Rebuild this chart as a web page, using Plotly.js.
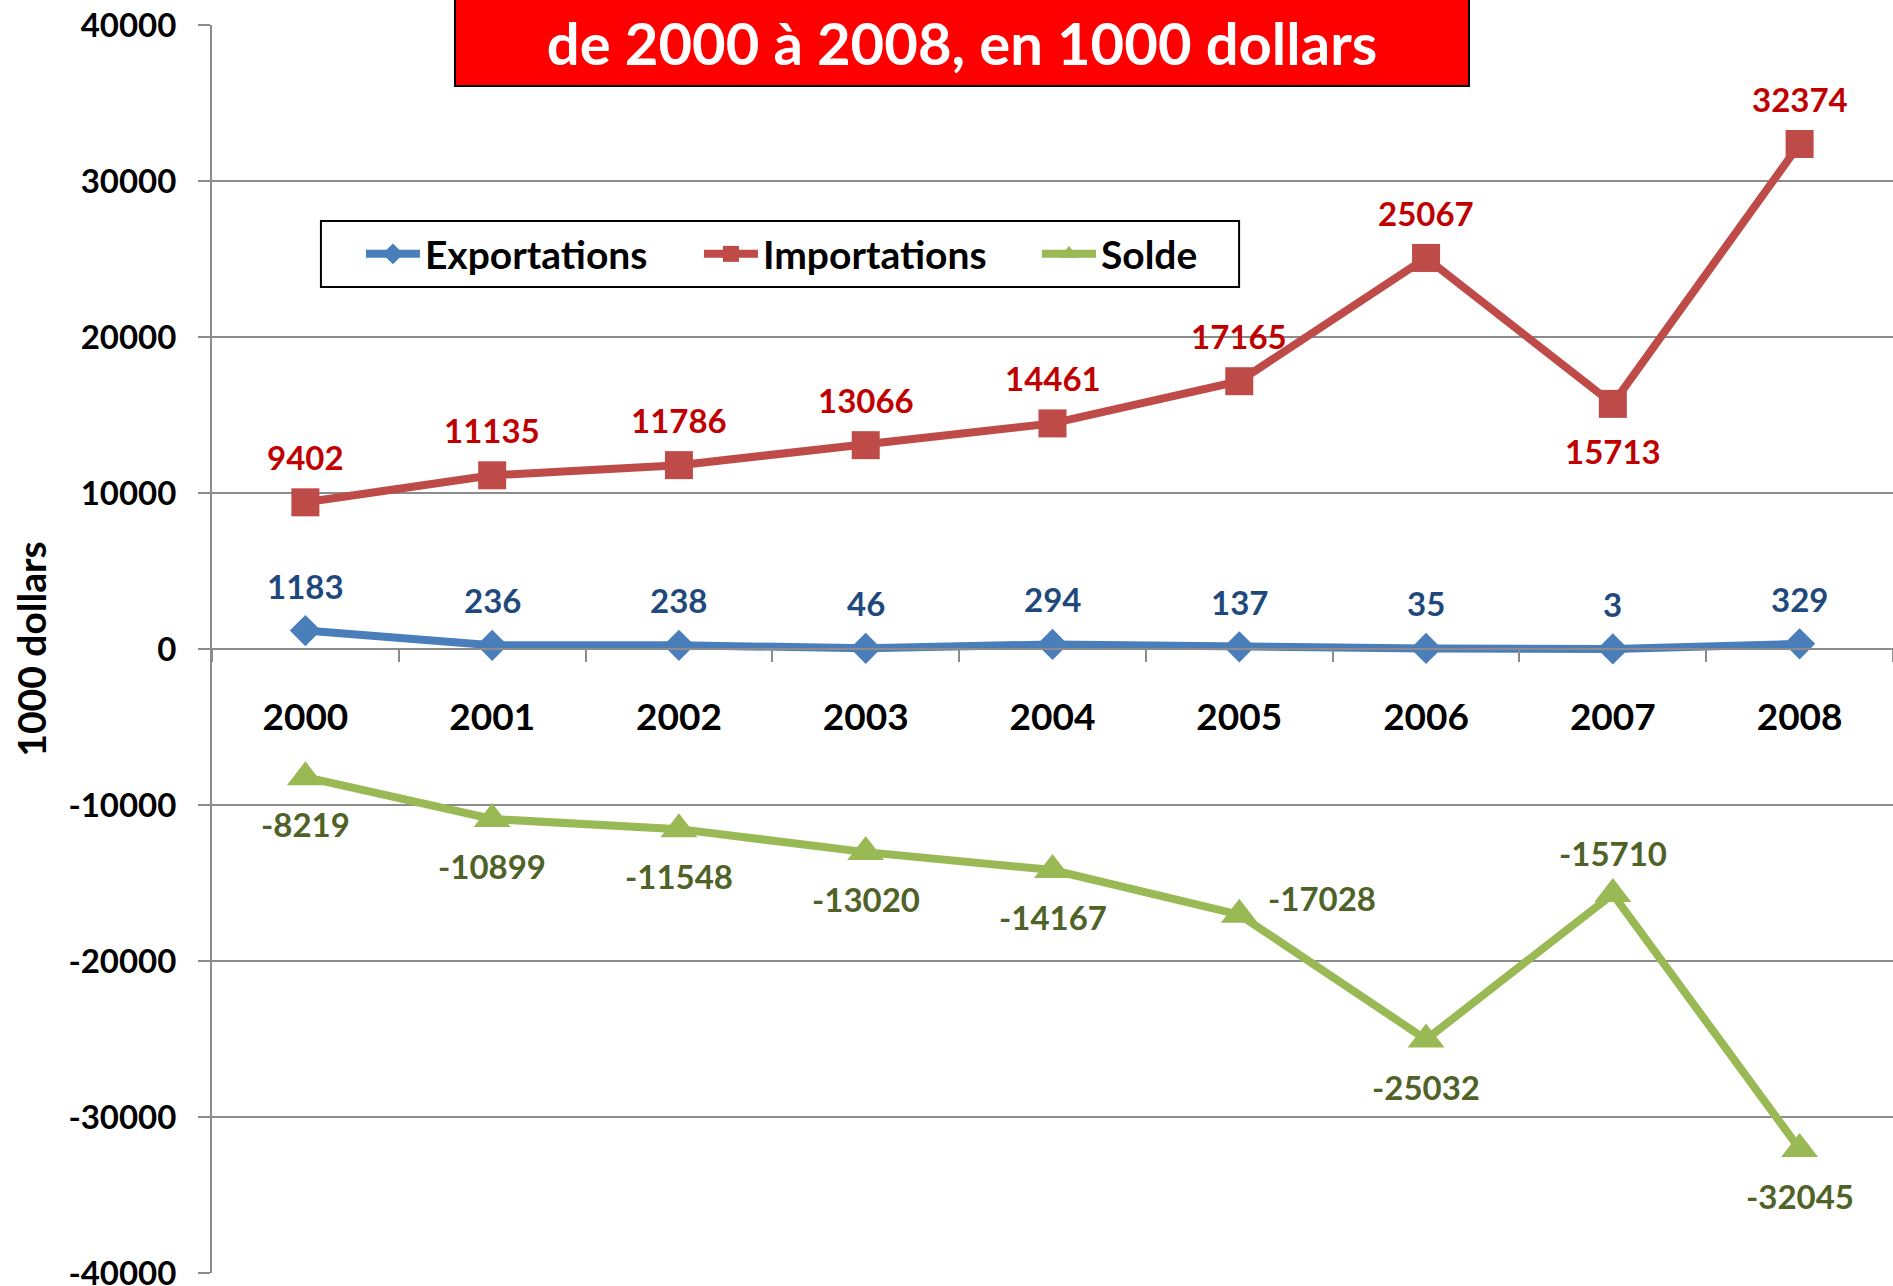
<!DOCTYPE html>
<html>
<head>
<meta charset="utf-8">
<script src="https://cdn.plot.ly/plotly-3.0.1.min.js"></script>
<style>
html, body { margin: 0; padding: 0; background: #ffffff; }
#chart { width: 1893px; height: 1286px; }
</style>
</head>
<body>
<div id="chart"></div>
<script>
// ---- data ----
const years = ['2000', '2001', '2002', '2003', '2004', '2005', '2006', '2007', '2008'];
const exportations = [1183, 236, 238, 46, 294, 137, 35, 3, 329];
const importations = [9402, 11135, 11786, 13066, 14461, 17165, 25067, 15713, 32374];
const solde = [-8219, -10899, -11548, -13020, -14167, -17028, -25032, -15710, -32045];
const yTickVals = [-40000, -30000, -20000, -10000, 0, 10000, 20000, 30000, 40000];
const yTickText = ['-40000', '-30000', '-20000', '-10000', '0', '10000', '20000', '30000', '40000'];
const seriesNames = ['Exportations', 'Importations', 'Solde'];
const titleText = 'de 2000 à 2008, en 1000 dollars';
const yTitleText = '1000 dollars';

// ---- label placement (style only) ----
const exportPlacement = ['above', 'above', 'above', 'above', 'above', 'above', 'above', 'above', 'above'];
const importPlacement = ['above', 'above', 'above', 'above', 'above', 'above', 'above', 'below', 'above'];
const soldePlacement = ['below', 'below', 'below', 'below', 'below', 'right', 'below', 'above', 'below'];

const FONT = 'Lato, "Open Sans", "Liberation Sans", sans-serif';
const GRID = '#8c8c8c';

const lineColors = ['#4A7EBB', '#BE4B48', '#98B954'];
const labelColors = ['#1F497D', '#C00000', '#4F6228'];

const traces = [
  {
    x: years, y: exportations, name: seriesNames[0], type: 'scatter', mode: 'lines+markers',
    line: { color: lineColors[0], width: 8 },
    marker: { symbol: 'diamond', size: 24, color: lineColors[0] }
  },
  {
    x: years, y: importations, name: seriesNames[1], type: 'scatter', mode: 'lines+markers',
    line: { color: lineColors[1], width: 8 },
    marker: { symbol: 'square', size: 28, color: lineColors[1] }
  },
  {
    x: years, y: solde, name: seriesNames[2], type: 'scatter', mode: 'lines+markers',
    line: { color: lineColors[2], width: 8 },
    marker: { symbol: 'triangle-up', size: 32, color: lineColors[2] }
  }
];

// category index i is the position of years[i] on the category axis
function makeLabel(i, y, place, color) {
  const a = {
    x: i, y: y, xref: 'x', yref: 'y', text: String(y), showarrow: false,
    font: { family: FONT, size: 33, color: color, weight: 'bold' },
    xanchor: 'center', yanchor: 'middle'
  };
  if (place === 'above') a.yshift = 45;
  else if (place === 'below') a.yshift = -47;
  else if (place === 'right') { a.xanchor = 'left'; a.xshift = 27; a.yshift = 17; }
  return a;
}

const annotations = [];
years.forEach((yr, i) => annotations.push(makeLabel(i, exportations[i], exportPlacement[i], labelColors[0])));
years.forEach((yr, i) => annotations.push(makeLabel(i, importations[i], importPlacement[i], labelColors[1])));
years.forEach((yr, i) => {
  const a = makeLabel(i, solde[i], soldePlacement[i], labelColors[2]);
  if (soldePlacement[i] === 'above') a.yshift = 41;
  annotations.push(a);
});

// title box
annotations.push({
  xref: 'paper', yref: 'paper', x: 0.4462, y: 0.9503, xanchor: 'center', yanchor: 'bottom',
  text: titleText, showarrow: false,
  font: { family: FONT, size: 58, color: '#ffffff', weight: 'bold' },
  bgcolor: '#FF0000', bordercolor: '#000000', borderwidth: 2, borderpad: 0,
  width: 1012, height: 86, align: 'center', valign: 'middle'
});

const layout = {
  width: 1893, height: 1286,
  margin: { l: 212, r: 0, t: 25, b: 13, pad: 0 },
  paper_bgcolor: '#ffffff', plot_bgcolor: '#ffffff',
  showlegend: true,
  font: { family: FONT, color: '#000000' },
  xaxis: {
    type: 'category', range: [-0.5, 8.5],
    anchor: 'free', position: 0.5,
    showline: true, linecolor: GRID, linewidth: 2,
    ticks: 'outside', tickson: 'boundaries', ticklen: 12, tickcolor: GRID, tickwidth: 2,
    showgrid: false, zeroline: false,
    tickfont: { family: FONT, size: 37, color: '#000000', weight: 'bold' },
    ticklabelstandoff: 36
  },
  yaxis: {
    range: [-40000, 40000], tickmode: 'array', tickvals: yTickVals, ticktext: yTickText,
    showline: true, linecolor: GRID, linewidth: 2,
    ticks: 'outside', ticklen: 12, tickcolor: GRID, tickwidth: 2,
    showgrid: true, gridcolor: GRID, gridwidth: 2, zeroline: false,
    tickfont: { family: FONT, size: 33, color: '#000000', weight: 'bold' },
    ticklabelstandoff: 15, ticklabeloverflow: 'allow',
    title: { text: yTitleText, font: { family: FONT, size: 39, color: '#000000', weight: 'bold' }, standoff: 10 }
  },
  legend: {
    orientation: 'h', x: 0.0886, xanchor: 'left', y: 0.8165, yanchor: 'middle',
    bgcolor: 'rgba(0,0,0,0)', borderwidth: 0,
    font: { family: FONT, size: 39, color: '#000000', weight: 'bold' },
    itemwidth: 54, entrywidth: 269
  },
  shapes: [{
    type: 'rect', xref: 'paper', yref: 'paper',
    x0: 0.0648, x1: 0.611, y0: 0.790, y1: 0.8429,
    line: { color: '#000000', width: 2 }, fillcolor: 'rgba(0,0,0,0)', layer: 'above'
  }],
  annotations: annotations
};

Plotly.newPlot('chart', traces, layout, { displayModeBar: false, staticPlot: true });
</script>
</body>
</html>
